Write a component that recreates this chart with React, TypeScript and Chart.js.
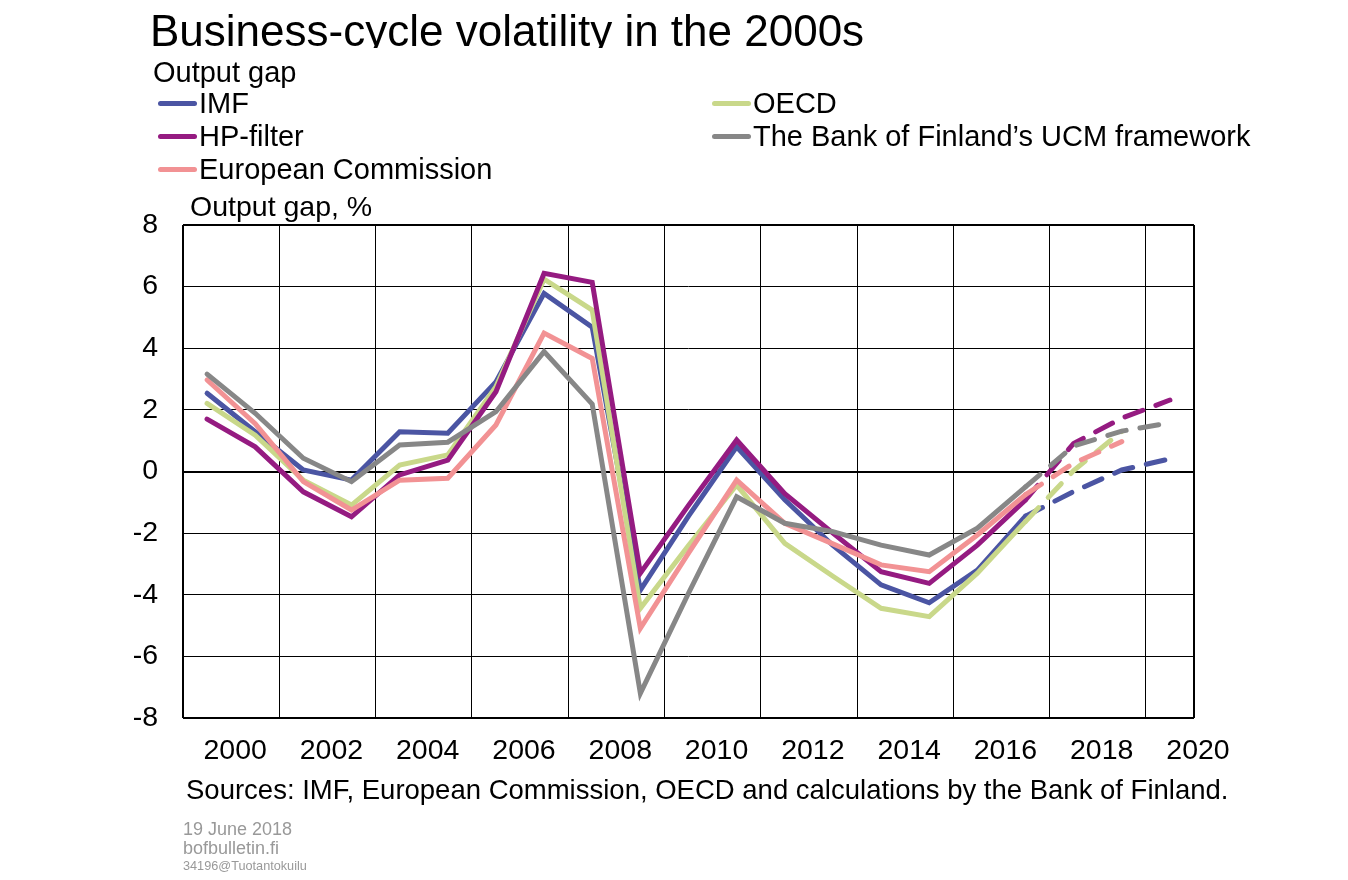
import React, { useEffect, useRef } from 'react';
import { Chart, registerables } from 'chart.js';

Chart.register(...registerables);

// ---- data ----
const YEARS = [2000, 2001, 2002, 2003, 2004, 2005, 2006, 2007, 2008, 2009, 2010, 2011, 2012, 2013, 2014, 2015, 2016, 2017, 2018, 2019, 2020];
const IMF = [2.54, 1.29, 0.05, -0.28, 1.29, 1.24, 2.91, 5.78, 4.68, -3.85, -1.45, 0.8, -0.92, -2.4, -3.68, -4.26, -3.2, -1.45, -0.65, 0.05, 0.41];
const HP_FILTER = [1.7, 0.8, -0.66, -1.47, -0.11, 0.37, 2.59, 6.43, 6.14, -3.3, -1.1, 1.02, -0.72, -2.0, -3.25, -3.63, -2.39, -0.92, 0.91, 1.73, 2.32];
const EUROPEAN_COMMISSION = [2.97, 1.55, -0.33, -1.25, -0.28, -0.22, 1.51, 4.49, 3.67, -5.09, -2.65, -0.28, -1.68, -2.35, -3.03, -3.25, -2.06, -0.75, 0.27, 0.97, null];
const OECD = [2.21, 1.18, -0.28, -1.09, 0.21, 0.54, 2.75, 6.24, 5.24, -4.44, -2.4, -0.44, -2.33, -3.4, -4.44, -4.71, -3.3, -1.62, 0.03, 1.3, null];
const BOF_UCM = [3.16, 1.89, 0.43, -0.33, 0.86, 0.95, 1.94, 3.89, 2.19, -7.2, -3.95, -0.82, -1.68, -1.95, -2.39, -2.71, -1.84, -0.5, 0.83, 1.31, 1.58];
const FORECAST_FROM = 2017;

const X_TICK_LABELS = ['2000', '2002', '2004', '2006', '2008', '2010', '2012', '2014', '2016', '2018', '2020'];
const Y_MIN = -8;
const Y_MAX = 8;
const Y_STEP = 2;

const SERIES_NAMES = ['IMF', 'OECD', 'HP-filter', 'The Bank of Finland\u2019s UCM framework', 'European Commission'];
const SERIES_COLORS = ['#4b55a3', '#c9d88a', '#951b81', '#878787', '#f29294'];

const FONT = '"Liberation Sans", Arial, Helvetica, sans-serif';

export default function App() {
  const canvasRef = useRef<HTMLCanvasElement>(null);

  useEffect(() => {
    const canvas = canvasRef.current;
    if (!canvas) return;
    const seriesValues = [IMF, OECD, HP_FILTER, BOF_UCM, EUROPEAN_COMMISSION];
    const drawOrder = [5, 4, 3, 1, 2];
    const datasets = seriesValues.map((vals, s) => ({
      label: SERIES_NAMES[s],
      data: YEARS.map((yr, i) => ({ x: yr, y: vals[i] })).filter((p) => p.y !== null),
      borderColor: SERIES_COLORS[s],
      backgroundColor: SERIES_COLORS[s],
      borderWidth: 5,
      pointRadius: 0,
      pointHoverRadius: 0,
      tension: 0,
      fill: false,
      borderCapStyle: 'round' as const,
      borderJoinStyle: 'miter' as const,
      order: drawOrder[s],
      segment: {
        borderDash: (c: any) => (c.p0.parsed.x >= FORECAST_FROM ? [19, 14] : undefined),
      },
    }));

    const xMin = YEARS[0] - 0.5;
    const xMax = YEARS[YEARS.length - 1] + 0.5;
    const gridPos: number[] = [];
    for (let v = xMin; v < xMax; v += 2) gridPos.push(v);
    gridPos.push(xMax);
    const labelPos = X_TICK_LABELS.map((l) => Number(l) + 0.5);
    const allTicks = Array.from(new Set([...gridPos, ...labelPos])).sort((a, b) => a - b);
    const isGrid = (v: number) => gridPos.some((g) => Math.abs(g - v) < 1e-6);
    const labelIndex = (v: number) => labelPos.findIndex((g) => Math.abs(g - v) < 1e-6);

    const chart = new Chart(canvas, {
      type: 'line',
      data: { datasets: datasets as any },
      options: {
        responsive: false,
        animation: false,
        events: [],
        layout: { padding: { top: 225, right: 154, left: 0, bottom: 0 } },
        plugins: { legend: { display: false }, tooltip: { enabled: false }, title: { display: false } },
        scales: {
          x: {
            type: 'linear',
            min: xMin,
            max: xMax,
            afterBuildTicks: (s: any) => {
              s.ticks = allTicks.map((v) => ({ value: v }));
            },
            afterFit: (s: any) => {
              s.height = 162;
            },
            border: { display: false },
            grid: {
              drawTicks: false,
              color: (c: any) => (isGrid(c.tick.value) ? '#000000' : 'rgba(0,0,0,0)'),
              lineWidth: (c: any) =>
                Math.abs(c.tick.value - xMin) < 1e-6 || Math.abs(c.tick.value - xMax) < 1e-6 ? 2 : 1,
            },
            ticks: {
              autoSkip: false,
              maxRotation: 0,
              minRotation: 0,
              padding: 16,
              labelOffset: 4,
              color: '#000',
              font: { family: FONT, size: 28.5 },
              callback: (v: any) => {
                const i = labelIndex(Number(v));
                return i >= 0 ? X_TICK_LABELS[i] : '';
              },
            },
          },
          y: {
            type: 'linear',
            min: Y_MIN,
            max: Y_MAX,
            afterFit: (s: any) => {
              s.width = 183;
            },
            border: { display: false },
            grid: {
              drawTicks: false,
              color: '#000000',
              lineWidth: (c: any) =>
                c.tick.value === 0 || c.tick.value === Y_MIN || c.tick.value === Y_MAX ? 2 : 1,
            },
            ticks: {
              stepSize: Y_STEP,
              padding: 25,
              color: '#000',
              font: { family: FONT, size: 28.5 },
            },
          },
        },
      } as any,
    });
    return () => chart.destroy();
  }, []);

  const abs = (extra: React.CSSProperties): React.CSSProperties => ({
    position: 'absolute',
    whiteSpace: 'nowrap',
    ...extra,
  });

  const legendCells = [
    { idx: 0, left: 158, row: 0 },
    { idx: 1, left: 712, row: 0 },
    { idx: 2, left: 158, row: 1 },
    { idx: 3, left: 712, row: 1 },
    { idx: 4, left: 158, row: 2 },
  ];

  return (
    <div
      style={{
        position: 'absolute',
        left: 0,
        top: 0,
        width: 1348,
        height: 880,
        background: '#ffffff',
        overflow: 'hidden',
        fontFamily: FONT,
        color: '#000',
      }}
    >
      <canvas ref={canvasRef} width={1348} height={880} style={{ position: 'absolute', left: 0, top: 0 }} />
      <div style={abs({ left: 0, top: 0, width: 1348, height: 48, overflow: 'hidden' })}>
        <div style={abs({ left: 150, top: 6, fontSize: 44, lineHeight: '50px' })}>
          Business-cycle volatility in the 2000s
        </div>
      </div>
      <div style={abs({ left: 153, top: 58, fontSize: 29, lineHeight: '29px' })}>Output gap</div>
      {legendCells.map((c) => (
        <React.Fragment key={c.idx}>
          <div
            style={abs({
              left: c.left,
              top: 103 + c.row * 33 - 2.5,
              width: 39,
              height: 5,
              borderRadius: 2.5,
              background: SERIES_COLORS[c.idx],
            })}
          />
          <div style={abs({ left: c.left + 41, top: 89 + c.row * 33, fontSize: 29, lineHeight: '29px' })}>
            {SERIES_NAMES[c.idx]}
          </div>
        </React.Fragment>
      ))}
      <div style={abs({ left: 190, top: 191.5, fontSize: 28.5, lineHeight: '28.5px' })}>Output gap, %</div>
      <div style={abs({ left: 186, top: 775.5, fontSize: 27.5, lineHeight: '27.5px' })}>
        Sources: IMF, European Commission, OECD and calculations by the Bank of Finland.
      </div>
      <div style={abs({ left: 183, top: 820, fontSize: 18, lineHeight: '18px', color: '#999999' })}>19 June 2018</div>
      <div style={abs({ left: 183, top: 839, fontSize: 18, lineHeight: '18px', color: '#999999' })}>bofbulletin.fi</div>
      <div style={abs({ left: 183, top: 859.5, fontSize: 12.7, lineHeight: '12.7px', color: '#999999' })}>
        34196@Tuotantokuilu
      </div>
    </div>
  );
}
